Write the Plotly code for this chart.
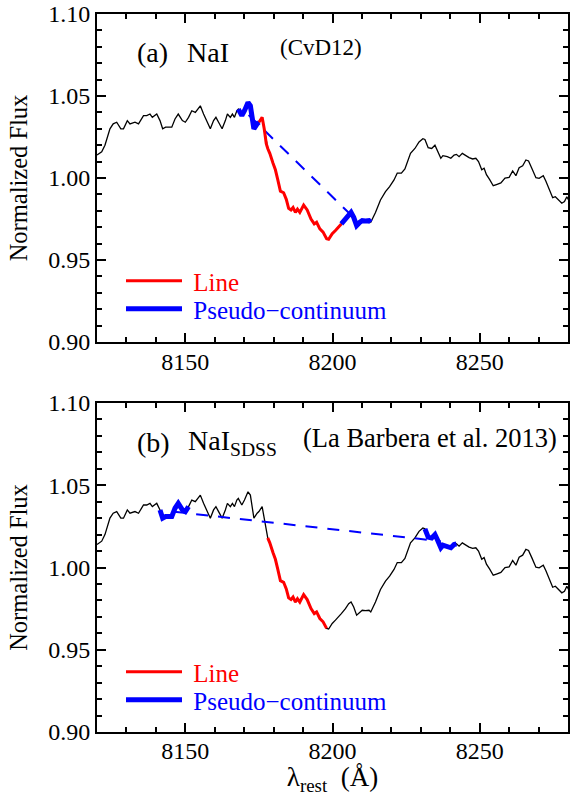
import plotly.graph_objects as go

# Rest-frame wavelength (Angstrom) and normalized flux of the stacked spectrum
wave = [
    8120.0, 8121.6, 8122.7, 8124.4, 8125.5, 8126.7, 8128.1, 8129.0, 8130.3, 8131.2,
    8132.9, 8134.1, 8135.8, 8136.9, 8138.0, 8138.8, 8140.3, 8141.4, 8142.3, 8143.3,
    8144.2, 8145.4, 8146.5, 8147.6, 8149.0, 8150.0, 8151.1, 8152.2, 8153.4, 8155.1,
    8156.2, 8157.3, 8158.5, 8159.6, 8160.4, 8161.3, 8162.5, 8163.6, 8164.3, 8165.3,
    8166.0, 8166.7, 8167.5, 8168.0, 8169.2, 8170.1, 8171.3, 8172.1, 8172.6, 8173.3,
    8174.4, 8175.0, 8176.1, 8176.8, 8177.5, 8178.0, 8178.7, 8179.8, 8180.6, 8181.4,
    8182.3, 8183.4, 8184.3, 8185.1, 8185.9, 8186.6, 8187.4, 8188.1, 8188.9, 8190.2,
    8191.4, 8192.7, 8193.8, 8194.6, 8195.7, 8196.8, 8198.0, 8198.7, 8199.9, 8201.0,
    8202.1, 8203.0, 8204.4, 8205.5, 8206.3, 8207.2, 8208.2, 8209.3, 8210.1, 8211.2,
    8212.4, 8213.0, 8214.6, 8216.3, 8218.0, 8219.4, 8220.9, 8222.0, 8223.4, 8224.6,
    8225.4, 8226.5, 8228.0, 8229.4, 8230.7, 8231.4, 8232.5, 8233.7, 8234.8, 8235.6,
    8236.8, 8237.5, 8239.0, 8240.2, 8241.3, 8242.1, 8243.0, 8244.1, 8245.3, 8246.4,
    8247.6, 8248.7, 8249.6, 8250.7, 8251.5, 8252.3, 8253.4, 8254.6, 8255.7, 8257.2,
    8258.6, 8260.0, 8261.2, 8262.3, 8263.4, 8264.6, 8265.7, 8266.6, 8267.7, 8269.1,
    8270.2, 8271.6, 8272.5, 8273.6, 8274.8, 8275.7, 8276.8, 8277.9, 8278.8, 8279.6,
    8280.4,
]
flux = [
    1.014, 1.016, 1.020, 1.030, 1.033, 1.034, 1.030, 1.030, 1.035, 1.033,
    1.034, 1.033, 1.038, 1.038, 1.039, 1.037, 1.039, 1.035, 1.030, 1.031,
    1.031, 1.031, 1.036, 1.039, 1.035, 1.034, 1.037, 1.041, 1.040, 1.044,
    1.039, 1.035, 1.030, 1.035, 1.037, 1.034, 1.030, 1.035, 1.039, 1.037,
    1.039, 1.037, 1.041, 1.042, 1.038, 1.041, 1.046, 1.044, 1.038, 1.030,
    1.033, 1.034, 1.037, 1.030, 1.021, 1.018, 1.015, 1.009, 1.005, 0.999,
    0.992, 0.991, 0.987, 0.9815, 0.9805, 0.982, 0.979, 0.981, 0.979, 0.9835,
    0.9805, 0.975, 0.972, 0.973, 0.969, 0.967, 0.963, 0.9626, 0.966, 0.968,
    0.970, 0.972, 0.975, 0.978, 0.979, 0.976, 0.971, 0.973, 0.974, 0.9738,
    0.974, 0.973, 0.979, 0.9866, 0.9917, 0.9947, 0.9988, 1.003, 1.003, 1.0055,
    1.010, 1.015, 1.018, 1.022, 1.024, 1.0235, 1.0185, 1.018, 1.020, 1.017,
    1.012, 1.0136, 1.013, 1.012, 1.014, 1.0144, 1.013, 1.015, 1.0135, 1.0124,
    1.0116, 1.012, 1.010, 1.005, 1.006, 1.002, 0.999, 0.9953, 0.996, 0.997,
    1.000, 1.0004, 1.0043, 1.0014, 1.0063, 1.0075, 1.011, 1.0104, 1.006, 1.0002,
    0.9998, 1.0014, 0.998, 0.9927, 0.988, 0.9886, 0.9866, 0.9846, 0.9856, 0.9886,
    0.986,
]

# Index definitions: (blue pseudo-continuum, central feature, red pseudo-continuum)
bands_cvd12 = [(8168.0, 8175.0), (8175.0, 8203.0), (8203.0, 8213.0)]
bands_lb13 = [(8141.4, 8151.1), (8178.0, 8198.0), (8231.4, 8242.1)]

x_ticks = [8150, 8200, 8250]
y_ticks = [0.90, 0.95, 1.00, 1.05, 1.10]

RED = "#ff0000"
BLUE = "#0000ff"
FONT = "Liberation Serif"
GAP = "\u00a0"  # space between legend sample and label


def segment(lo, hi):
    xs = [w for w in wave if lo <= w <= hi]
    ys = [f for w, f in zip(wave, flux) if lo <= w <= hi]
    return xs, ys


def continuum_line(blue, red):
    """Straight line joining the mean flux of the two side bands."""
    _, yb = segment(*blue)
    _, yr = segment(*red)
    return ([0.5 * (blue[0] + blue[1]), 0.5 * (red[0] + red[1])],
            [sum(yb) / len(yb), sum(yr) / len(yr)])


fig = go.Figure()


def add_panel(bands, xa, ya, leg_line, leg_cont):
    blue, line, red = bands
    fig.add_trace(go.Scatter(x=wave, y=flux, mode="lines", xaxis=xa, yaxis=ya,
                             line=dict(color="black", width=1.3), showlegend=False))
    cx, cy = continuum_line(blue, red)
    fig.add_trace(go.Scatter(x=cx, y=cy, mode="lines", xaxis=xa, yaxis=ya,
                             line=dict(color=BLUE, width=2, dash="12px,10px"),
                             showlegend=False))
    lx, ly = segment(*line)
    fig.add_trace(go.Scatter(x=lx, y=ly, mode="lines", xaxis=xa, yaxis=ya,
                             line=dict(color=RED, width=3), legend=leg_line,
                             name=f'<span style="color:{RED}">{GAP}Line</span>'))
    bx, by = segment(*blue)
    rx, ry = segment(*red)
    fig.add_trace(go.Scatter(x=bx + [None] + rx, y=by + [None] + ry, mode="lines",
                             xaxis=xa, yaxis=ya, connectgaps=False,
                             line=dict(color=BLUE, width=5), legend=leg_cont,
                             name=f'<span style="color:{BLUE}">{GAP}Pseudo\u2212continuum</span>'))


add_panel(bands_cvd12, "x", "y", "legend", "legend2")
add_panel(bands_lb13, "x2", "y2", "legend3", "legend4")

axis_common = dict(
    showline=True, linewidth=2, linecolor="black", mirror="ticks",
    ticks="inside", ticklen=9, tickwidth=1.5, tickcolor="black",
    showgrid=False, zeroline=False, automargin=False,
    tickfont=dict(family=FONT, size=24, color="black"),
)
x_common = dict(axis_common, range=[8120, 8280], tickvals=x_ticks,
                minor=dict(dtick=10, tick0=8100, ticks="inside", ticklen=5,
                           tickwidth=1.5, tickcolor="black"))
y_common = dict(axis_common, range=[0.90, 1.10], tickvals=y_ticks, tickformat=".2f",
                minor=dict(dtick=0.01, tick0=0.90, ticks="inside", ticklen=5,
                           tickwidth=1.5, tickcolor="black"),
                title=dict(text="Normalized Flux", standoff=14,
                           font=dict(family=FONT, size=24.5, color="black")))

top_lo = (732 - 342) / 718
bot_hi = (732 - 403) / 718


def py(pix):
    """Paper y-fraction for a pixel row of the plotting area."""
    return (732 - pix) / 718


leg_x = (121 - 97) / 471
leg_common = dict(x=leg_x, xanchor="left", yanchor="middle", bgcolor="rgba(0,0,0,0)",
                  itemwidth=56, font=dict(family=FONT, size=25))

fig.update_layout(
    width=571, height=796,
    margin=dict(l=97, r=3, t=14, b=64),
    paper_bgcolor="white", plot_bgcolor="white",
    xaxis=dict(x_common, domain=[0, 1], anchor="y", ticklabelstandoff=-3),
    yaxis=dict(y_common, domain=[top_lo, 1], anchor="x"),
    xaxis2=dict(x_common, domain=[0, 1], anchor="y2", ticklabelstandoff=-4,
                title=dict(text="\u03bb<sub>rest</sub>\u00a0\u00a0(\u00c5)", standoff=3,
                           font=dict(family=FONT, size=27, color="black"))),
    yaxis2=dict(y_common, domain=[0, bot_hi], anchor="x2"),
    legend=dict(leg_common, y=py(281)),
    legend2=dict(leg_common, y=py(309)),
    legend3=dict(leg_common, y=py(672)),
    legend4=dict(leg_common, y=py(700)),
    showlegend=True,
)

big = dict(family=FONT, size=28, color="black")
small = dict(family=FONT, size=23, color="black")
wide = dict(family=FONT, size=26.5, color="black")
labels = [
    ("x", "y", 8132.9, 1.0768, "(a)", big),
    ("x", "y", 8149.9, 1.0768, "NaI", big),
    ("x", "y", 8181.5, 1.0795, "(CvD12)", small),
    ("x2", "y2", 8132.9, 1.0757, "(b)", big),
    ("x2", "y2", 8150.2, 1.0757, "NaI<sub>SDSS</sub>", big),
    ("x2", "y2", 8189.3, 1.0785, "(La Barbera et al. 2013)", wide),
]
for xr, yr, xv, yv, txt, fnt in labels:
    fig.add_annotation(xref=xr, yref=yr, x=xv, y=yv, text=txt, showarrow=False,
                       xanchor="left", yanchor="middle", font=fnt)

fig.write_html("out.html")
